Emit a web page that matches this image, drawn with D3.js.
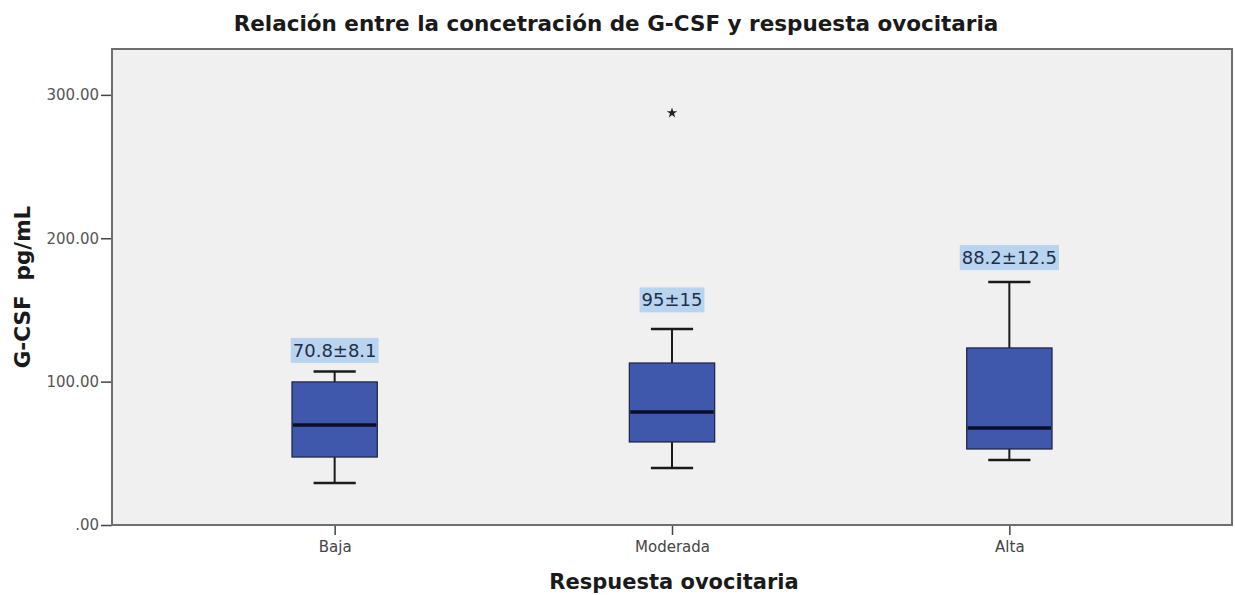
<!DOCTYPE html>
<html>
<head>
<meta charset="utf-8">
<script src="https://cdn.jsdelivr.net/npm/d3@7"></script>
<style>
  html, body { margin: 0; padding: 0; background: #ffffff; }
  svg { display: block; }
</style>
</head>
<body>
<script>
// ---- data ----
const categories = ["Baja", "Moderada", "Alta"];
const whiskerLow  = [29.3, 39.8, 45.3];
const q1          = [47.4, 57.9, 53.0];
const median      = [69.8, 78.8, 67.7];
const q3          = [99.8, 113.0, 123.5];
const whiskerHigh = [107.0, 136.7, 169.5];
const outliers    = [[], [287.4], []];
const annotations = ["70.8\u00b18.1", "95\u00b115", "88.2\u00b112.5"];
const annotationAt = [121.8, 157.0, 186.5];   // value at which each annotation sits
const yTicks = [0, 100, 200, 300];
const yMax = 332;

const titleText = "Relación entre la concetración de G-CSF y respuesta ovocitaria";
const xTitle = "Respuesta ovocitaria";
const yTitle = "G-CSF\u00a0\u00a0pg/mL";

// ---- layout ----
const W = 1235, H = 595;
const plot = { left: 112, right: 1232, top: 49, bottom: 525 };
const font = "'DejaVu Sans', 'Liberation Sans', sans-serif";

const svg = d3.select("body").append("svg")
  .attr("width", W).attr("height", H)
  .style("font-family", font);

svg.append("rect").attr("width", W).attr("height", H).attr("fill", "#ffffff");

const x = d3.scalePoint().domain(categories).range([plot.left, plot.right]).padding(0.66);
const y = d3.scaleLinear().domain([0, yMax]).range([plot.bottom, plot.top]);

// plot background
svg.append("rect")
  .attr("x", plot.left).attr("y", plot.top)
  .attr("width", plot.right - plot.left).attr("height", plot.bottom - plot.top)
  .attr("fill", "#f0f0f0");

const step = x.step();
const boxW = step * 0.253;
const capW = step * 0.125;

const data = categories.map((c, i) => ({
  cat: c, lo: whiskerLow[i], q1: q1[i], med: median[i], q3: q3[i], hi: whiskerHigh[i],
  out: outliers[i], label: annotations[i], labelAt: annotationAt[i]
}));

const g = svg.append("g");
const box = g.selectAll("g.box").data(data).enter().append("g").attr("class", "box");

// whiskers
box.append("line")
  .attr("x1", d => x(d.cat)).attr("x2", d => x(d.cat))
  .attr("y1", d => y(d.hi)).attr("y2", d => y(d.q3))
  .attr("stroke", "#1a1a1a").attr("stroke-width", 2);
box.append("line")
  .attr("x1", d => x(d.cat)).attr("x2", d => x(d.cat))
  .attr("y1", d => y(d.q1)).attr("y2", d => y(d.lo))
  .attr("stroke", "#1a1a1a").attr("stroke-width", 2);
// caps
box.append("line")
  .attr("x1", d => x(d.cat) - capW / 2).attr("x2", d => x(d.cat) + capW / 2)
  .attr("y1", d => y(d.hi)).attr("y2", d => y(d.hi))
  .attr("stroke", "#1a1a1a").attr("stroke-width", 2.5);
box.append("line")
  .attr("x1", d => x(d.cat) - capW / 2).attr("x2", d => x(d.cat) + capW / 2)
  .attr("y1", d => y(d.lo)).attr("y2", d => y(d.lo))
  .attr("stroke", "#1a1a1a").attr("stroke-width", 2.5);
// box
box.append("rect")
  .attr("x", d => x(d.cat) - boxW / 2).attr("width", boxW)
  .attr("y", d => y(d.q3)).attr("height", d => y(d.q1) - y(d.q3))
  .attr("fill", "#3f58ab").attr("stroke", "#1c2340").attr("stroke-width", 1.2);
// median
box.append("line")
  .attr("x1", d => x(d.cat) - boxW / 2 + 1).attr("x2", d => x(d.cat) + boxW / 2 - 1)
  .attr("y1", d => y(d.med)).attr("y2", d => y(d.med))
  .attr("stroke", "#0a0e2a").attr("stroke-width", 3.5);

// outliers (extreme, star)
const star = d3.symbol().type(d3.symbolStar).size(34);
box.each(function(d) {
  d3.select(this).selectAll("path.out").data(d.out).enter().append("path")
    .attr("class", "out")
    .attr("d", star)
    .attr("transform", v => `translate(${x(d.cat)},${y(v)})`)
    .attr("fill", "#222");
});

// annotation labels
box.each(function(d) {
  const cx = x(d.cat);
  const cy = y(d.labelAt);
  const sel = d3.select(this);
  const bg = sel.append("rect").attr("fill", "#b9d4ee");
  const t = sel.append("text")
    .attr("x", cx).attr("y", cy)
    .attr("text-anchor", "middle").attr("dominant-baseline", "central")
    .attr("font-size", 18).attr("fill", "#1e2e4c")
    .text(d.label);
  const bb = t.node().getBBox();
  bg.attr("x", bb.x - 2).attr("width", bb.width + 4)
    .attr("y", cy - 12.5).attr("height", 25);
});

// axes
const yAxis = d3.axisLeft(y).tickValues(yTicks).tickSize(11).tickPadding(2)
  .tickFormat(d => d === 0 ? ".00" : d.toFixed(2));
const ya = svg.append("g").attr("transform", `translate(${plot.left},0)`).call(yAxis);
ya.select(".domain").remove();
ya.selectAll(".tick line").attr("stroke", "#444").attr("stroke-width", 1.5);
ya.selectAll(".tick text").attr("font-size", 15).attr("fill", "#555").style("font-family", font);

const xAxis = d3.axisBottom(x).tickSize(10).tickPadding(6);
const xa = svg.append("g").attr("transform", `translate(0,${plot.bottom})`).call(xAxis);
xa.select(".domain").remove();
xa.selectAll(".tick line").attr("stroke", "#444").attr("stroke-width", 1.5);
xa.selectAll(".tick text").attr("font-size", 15).attr("fill", "#444").style("font-family", font);

// frame
svg.append("rect")
  .attr("x", plot.left).attr("y", plot.top)
  .attr("width", plot.right - plot.left).attr("height", plot.bottom - plot.top)
  .attr("fill", "none").attr("stroke", "#6e6e6e").attr("stroke-width", 2);

// titles
svg.append("text")
  .attr("x", 616).attr("y", 31)
  .attr("text-anchor", "middle")
  .attr("font-size", 21.5).attr("font-weight", "bold").attr("fill", "#1a1a1a")
  .text(titleText);

svg.append("text")
  .attr("x", (plot.left + plot.right) / 2 + 2).attr("y", 589)
  .attr("text-anchor", "middle")
  .attr("font-size", 21).attr("font-weight", "bold").attr("fill", "#1a1a1a")
  .text(xTitle);

svg.append("text")
  .attr("transform", `translate(30,${(plot.top + plot.bottom) / 2}) rotate(-90)`)
  .attr("text-anchor", "middle")
  .attr("font-size", 21.5).attr("font-weight", "bold").attr("fill", "#1a1a1a")
  .text(yTitle);
</script>
</body>
</html>
